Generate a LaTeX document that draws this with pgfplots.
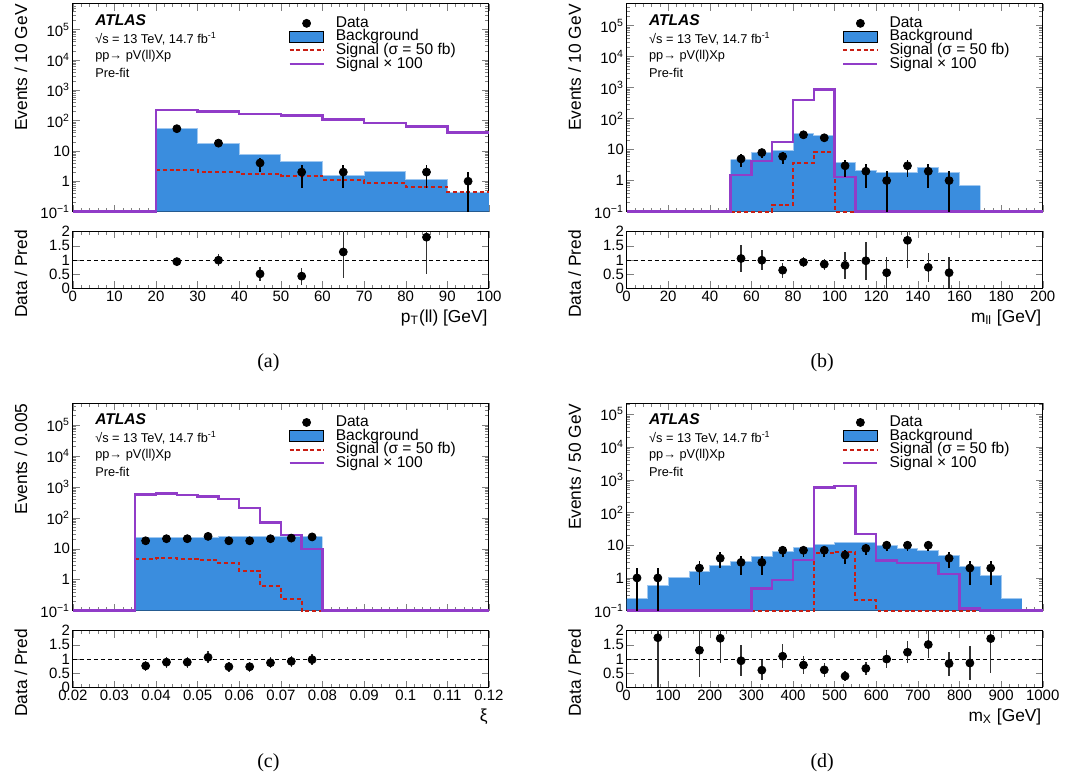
\documentclass[border=0pt]{standalone}
\usepackage{fontspec}
\setmainfont{Liberation Sans}
\newfontfamily\capfont{Liberation Serif}
\usepackage{pgfplots}
\pgfplotsset{compat=1.18}

\definecolor{bgblue}{RGB}{58,141,222}
\definecolor{bgedge}{RGB}{160,200,240}
\definecolor{sigred}{RGB}{200,30,20}
\definecolor{sigpurple}{RGB}{145,60,200}

\newcommand\tickfont{\fontsize{7.5}{9}\selectfont}
\newcommand\labfont{\fontsize{8.7}{10}\selectfont}
\newcommand\legfont{\fontsize{7.8}{9}\selectfont}
\newcommand\infofont{\fontsize{6.4}{7.5}\selectfont}
\newcommand\atlasfont{\fontsize{7.8}{9}\selectfont\bfseries\itshape}

\pgfplotsset{
 every axis/.append style={
  scale only axis, width=208.5pt,
  axis line style={line width=0.5pt},
  major tick length=3.5pt, minor tick length=1.75pt,
  tick align=inside,
  ticklabel style={font=\tickfont},
  yticklabel style={inner xsep=1.2pt},
  xticklabel style={inner ysep=1.2pt},
  legend cell align=left,
  legend style={at={(rel axis cs:0.518,0.959)}, anchor=north west, draw=none, fill=none,
   font=\legfont, inner sep=0pt, outer sep=0pt, row sep=-4.3pt, column sep=3.5pt},
 },
}

\newcommand\atlasblock{%
 \node[anchor=base west, font=\atlasfont, inner sep=0pt] at (rel axis cs:0.053,0.896) {ATLAS};
 \node[anchor=base west, font=\infofont, inner sep=0pt] at (rel axis cs:0.053,0.808) {√s = 13 TeV, 14.7 fb\textsuperscript{-1}};
 \node[anchor=base west, font=\infofont, inner sep=0pt] at (rel axis cs:0.053,0.731) {pp→ pV(ll)Xp};
 \node[anchor=base west, font=\infofont, inner sep=0pt] at (rel axis cs:0.053,0.648) {Pre-fit};
 \addlegendimage{black, mark=*, mark size=2pt, only marks}
 \addlegendentry{Data}
 \addlegendimage{area legend, fill=bgblue, draw=none}
 \addlegendentry{Background}
 \addlegendimage{sigred, line width=1pt, dash pattern=on 2pt off 1.4pt}
 \addlegendentry{Signal (σ = 50 fb)}
 \addlegendimage{sigpurple, line width=1.2pt}
 \addlegendentry{Signal × 100}
}
\newcommand\ylab[1]{\node[rotate=90, anchor=east, font=\labfont, inner sep=0pt] at ([xshift=-26pt]rel axis cs:0,1) {#1};}
\newcommand\rylab{\node[rotate=90, anchor=east, font=\labfont, inner sep=0pt] at ([xshift=-26pt,yshift=1pt]rel axis cs:0,1) {Data / Pred};}
\newcommand\xlab[1]{\node[anchor=base east, font=\labfont, inner sep=0pt] at ([xshift=-0.5pt,yshift=-17pt]rel axis cs:1,0) {#1};}

\begin{document}
\begin{tikzpicture}
\path (0pt,0pt) rectangle (533pt,-391pt);

%================ (a) =================
\begin{axis}[at={(36.5pt,-106pt)}, anchor=south west, height=104pt,
  ymode=log, ymin=0.1, ymax=7e5, log origin y=infty, clip=false,
  ytick={0.1,1,10,100,1000,10000,100000},
  yticklabels={10\textsuperscript{−1},1,10,10\textsuperscript{2},10\textsuperscript{3},10\textsuperscript{4},10\textsuperscript{5}},
  minor ytick={0.2,0.3,0.4,0.5,0.6,0.7,0.8,0.9,2,3,4,5,6,7,8,9,20,30,40,50,60,70,80,90,200,300,400,500,600,700,800,900,2000,3000,4000,5000,6000,7000,8000,9000,20000,30000,40000,50000,60000,70000,80000,90000,200000,300000,400000,500000,600000},
  xmin=0, xmax=100, xtick={0,10,20,30,40,50,60,70,80,90,100}, minor x tick num=4, xticklabels={}]
\addplot[const plot mark left, fill=bgblue, draw=none, forget plot] coordinates {(20,56)(30,17.5)(40,7.6)(50,4.4)(60,1.5)(70,2.14)(80,1.1)(90,0.43)(100,0.43)} \closedcycle;
\addplot[const plot mark left, draw=bgedge, line width=0.5pt, forget plot] coordinates {(20,56)(30,17.5)(40,7.6)(50,4.4)(60,1.5)(70,2.14)(80,1.1)(90,0.43)(100,0.43)};
\addplot[const plot mark left, draw=sigred, line width=1pt, dash pattern=on 2pt off 1.4pt, forget plot] coordinates {(20,2.3)(30,1.98)(40,1.79)(50,1.54)(60,1.13)(70,0.88)(80,0.65)(90,0.43)(100,0.43)};
\addplot[const plot mark left, draw=sigpurple, line width=1.2pt, forget plot] coordinates {(0,0.1)(20,227)(30,200)(40,168)(50,147)(60,109)(70,84)(80,64)(90,41)(100,41)};
\addplot[only marks, mark=*, mark size=2pt, black, forget plot,
   error bars/.cd, y dir=both, y explicit, error mark=none, error bar style={line width=0.9pt, black}] coordinates {
 (25,54) +- (0,7.35)
 (35,18) +- (0,4.24)
 (45,4) +- (0,2)
 (55,2) +- (0,1.41)
 (65,2) +- (0,1.41)
 (85,2) +- (0,1.41)
 (95,1) += (0,1) -= (0,0.9)};
\atlasblock
\ylab{Events / 10 GeV}
\end{axis}
\begin{axis}[at={(36.5pt,-144.5pt)}, anchor=south west, height=28.5pt, ymin=0, ymax=2,
  clip mode=individual,
  ytick={0,0.5,1,1.5,2}, yticklabels={0,0.5,1,1.5,2},
  xmin=0, xmax=100, xtick={0,10,20,30,40,50,60,70,80,90,100}, minor x tick num=4,
  xticklabels={0,10,20,30,40,50,60,70,80,90,100}]
\addplot[black, line width=0.4pt, dash pattern=on 2pt off 1.5pt, forget plot] coordinates {(0,1)(100,1)};
\addplot[only marks, mark=*, mark size=2pt, black, forget plot,
   error bars/.cd, y dir=both, y explicit, error mark=none, error bar style={line width=0.7pt, black!80}] coordinates {
 (25,0.94) +- (0,0.13)
 (35,0.99) +- (0,0.22)
 (45,0.51) +- (0,0.24)
 (55,0.43) +- (0,0.30)
 (65,1.28) +- (0,0.91)
 (85,1.80) +- (0,1.28)};
\rylab
\xlab{p\textsubscript{T}(ll) [GeV]}
\end{axis}

%================ (b) =================
\begin{axis}[at={(314pt,-106pt)}, anchor=south west, height=104pt,
  ymode=log, ymin=0.1, ymax=5e5, log origin y=infty, clip=false,
  ytick={0.1,1,10,100,1000,10000,100000},
  yticklabels={10\textsuperscript{−1},1,10,10\textsuperscript{2},10\textsuperscript{3},10\textsuperscript{4},10\textsuperscript{5}},
  minor ytick={0.2,0.3,0.4,0.5,0.6,0.7,0.8,0.9,2,3,4,5,6,7,8,9,20,30,40,50,60,70,80,90,200,300,400,500,600,700,800,900,2000,3000,4000,5000,6000,7000,8000,9000,20000,30000,40000,50000,60000,70000,80000,90000,200000,300000,400000},
  xmin=0, xmax=200, xtick={0,20,40,60,80,100,120,140,160,180,200}, minor x tick num=4, xticklabels={}]
\addplot[const plot mark left, fill=bgblue, draw=none, forget plot] coordinates {(50,4.76)(60,7.8)(70,9.5)(80,32.8)(90,28.3)(100,3.7)(110,2.1)(120,1.77)(130,1.77)(140,2.7)(150,1.77)(160,0.69)(170,0.69)} \closedcycle;
\addplot[const plot mark left, draw=bgedge, line width=0.5pt, forget plot] coordinates {(50,4.76)(60,7.8)(70,9.5)(80,32.8)(90,28.3)(100,3.7)(110,2.1)(120,1.77)(130,1.77)(140,2.7)(150,1.77)(160,0.69)(170,0.69)};
\addplot[const plot mark left, draw=sigred, line width=1pt, dash pattern=on 2pt off 1.4pt, forget plot] coordinates {(50,0.1)(60,0.1)(70,0.16)(80,3.7)(90,8.2)(100,0.1)(110,0.1)};
\addplot[const plot mark left, draw=sigpurple, line width=1.2pt, forget plot] coordinates {(0,0.1)(50,1.49)(60,4.2)(70,17.3)(80,390)(90,861)(100,1.28)(110,0.1)(200,0.1)};
\addplot[only marks, mark=*, mark size=2pt, black, forget plot,
   error bars/.cd, y dir=both, y explicit, error mark=none, error bar style={line width=0.9pt, black}] coordinates {
 (55,5) +- (0,2.24)
 (65,8) +- (0,2.83)
 (75,6) +- (0,2.45)
 (85,30) +- (0,5.48)
 (95,24) +- (0,4.9)
 (105,3) +- (0,1.73)
 (115,2) +- (0,1.41)
 (125,1) += (0,1) -= (0,0.9)
 (135,3) +- (0,1.73)
 (145,2) +- (0,1.41)
 (155,1) += (0,1) -= (0,0.9)};
\atlasblock
\ylab{Events / 10 GeV}
\end{axis}
\begin{axis}[at={(314pt,-144.5pt)}, anchor=south west, height=28.5pt, ymin=0, ymax=2,
  clip mode=individual,
  ytick={0,0.5,1,1.5,2}, yticklabels={0,0.5,1,1.5,2},
  xmin=0, xmax=200, xtick={0,20,40,60,80,100,120,140,160,180,200}, minor x tick num=4,
  xticklabels={0,20,40,60,80,100,120,140,160,180,200}]
\addplot[black, line width=0.4pt, dash pattern=on 2pt off 1.5pt, forget plot] coordinates {(0,1)(200,1)};
\addplot[only marks, mark=*, mark size=2pt, black, forget plot,
   error bars/.cd, y dir=both, y explicit, error mark=none, error bar style={line width=0.7pt, black!80}] coordinates {
 (55,1.05) +- (0,0.47)
 (65,0.99) +- (0,0.35)
 (75,0.64) +- (0,0.26)
 (85,0.92) +- (0,0.17)
 (95,0.85) +- (0,0.19)
 (105,0.81) +- (0,0.47)
 (115,0.97) +- (0,0.67)
 (125,0.55) +- (0,0.55)
 (135,1.69) +- (0,0.99)
 (145,0.74) +- (0,0.52)
 (155,0.55) +- (0,0.55)};
\rylab
\xlab{m\textsubscript{ll} [GeV]}
\end{axis}

%================ (c) =================
\begin{axis}[at={(36.5pt,-306pt)}, anchor=south west, height=104pt,
  ymode=log, ymin=0.1, ymax=5e5, log origin y=infty, clip=false,
  ytick={0.1,1,10,100,1000,10000,100000},
  yticklabels={10\textsuperscript{−1},1,10,10\textsuperscript{2},10\textsuperscript{3},10\textsuperscript{4},10\textsuperscript{5}},
  minor ytick={0.2,0.3,0.4,0.5,0.6,0.7,0.8,0.9,2,3,4,5,6,7,8,9,20,30,40,50,60,70,80,90,200,300,400,500,600,700,800,900,2000,3000,4000,5000,6000,7000,8000,9000,20000,30000,40000,50000,60000,70000,80000,90000,200000,300000,400000},
  xmin=0.02, xmax=0.12, xtick={0.02,0.03,0.04,0.05,0.06,0.07,0.08,0.09,0.1,0.11,0.12}, minor x tick num=4, xticklabels={}]
\addplot[const plot mark left, fill=bgblue, draw=none, forget plot] coordinates {(0.035,23.7)(0.04,23.6)(0.045,23.6)(0.05,23.6)(0.055,24.7)(0.06,24.7)(0.065,24.1)(0.07,23.9)(0.075,24.5)(0.08,24.5)} \closedcycle;
\addplot[const plot mark left, draw=bgedge, line width=0.5pt, forget plot] coordinates {(0.035,23.7)(0.04,23.6)(0.045,23.6)(0.05,23.6)(0.055,24.7)(0.06,24.7)(0.065,24.1)(0.07,23.9)(0.075,24.5)(0.08,24.5)};
\addplot[const plot mark left, draw=sigred, line width=1pt, dash pattern=on 2pt off 1.4pt, forget plot] coordinates {(0.035,4.76)(0.04,5.1)(0.045,4.76)(0.05,4.3)(0.055,3.45)(0.06,1.86)(0.065,0.63)(0.07,0.244)(0.075,0.1)(0.08,0.1)};
\addplot[const plot mark left, draw=sigpurple, line width=1.2pt, forget plot] coordinates {(0.02,0.1)(0.035,566)(0.04,610)(0.045,538)(0.05,488)(0.055,400)(0.06,205)(0.065,71)(0.07,28.3)(0.075,10)(0.08,0.1)(0.12,0.1)};
\addplot[only marks, mark=*, mark size=2pt, black, forget plot,
   error bars/.cd, y dir=both, y explicit, error mark=none, error bar style={line width=0.9pt, black}] coordinates {
 (0.0375,18) +- (0,4.24)
 (0.0425,21) +- (0,4.58)
 (0.0475,21) +- (0,4.58)
 (0.0525,25) +- (0,5)
 (0.0575,18) +- (0,4.24)
 (0.0625,18) +- (0,4.24)
 (0.0675,21) +- (0,4.58)
 (0.0725,22) +- (0,4.69)
 (0.0775,24) +- (0,4.9)};
\atlasblock
\ylab{Events / 0.005}
\end{axis}
\begin{axis}[at={(36.5pt,-344.5pt)}, anchor=south west, height=28.5pt, ymin=0, ymax=2,
  clip mode=individual,
  ytick={0,0.5,1,1.5,2}, yticklabels={0,0.5,1,1.5,2},
  xmin=0.02, xmax=0.12, xtick={0.02,0.03,0.04,0.05,0.06,0.07,0.08,0.09,0.1,0.11,0.12}, minor x tick num=4,
  xticklabels={0.02,0.03,0.04,0.05,0.06,0.07,0.08,0.09,0.1,0.11,0.12}]
\addplot[black, line width=0.4pt, dash pattern=on 2pt off 1.5pt, forget plot] coordinates {(0.02,1)(0.12,1)};
\addplot[only marks, mark=*, mark size=2pt, black, forget plot,
   error bars/.cd, y dir=both, y explicit, error mark=none, error bar style={line width=0.7pt, black!80}] coordinates {
 (0.0375,0.76) +- (0,0.18)
 (0.0425,0.89) +- (0,0.19)
 (0.0475,0.89) +- (0,0.19)
 (0.0525,1.06) +- (0,0.21)
 (0.0575,0.73) +- (0,0.17)
 (0.0625,0.73) +- (0,0.17)
 (0.0675,0.87) +- (0,0.19)
 (0.0725,0.92) +- (0,0.20)
 (0.0775,0.98) +- (0,0.20)};
\rylab
\xlab{ξ}
\end{axis}

%================ (d) =================
\begin{axis}[at={(314pt,-306pt)}, anchor=south west, height=104pt,
  ymode=log, ymin=0.1, ymax=2.2e5, log origin y=infty, clip=false,
  ytick={0.1,1,10,100,1000,10000,100000},
  yticklabels={10\textsuperscript{−1},1,10,10\textsuperscript{2},10\textsuperscript{3},10\textsuperscript{4},10\textsuperscript{5}},
  minor ytick={0.2,0.3,0.4,0.5,0.6,0.7,0.8,0.9,2,3,4,5,6,7,8,9,20,30,40,50,60,70,80,90,200,300,400,500,600,700,800,900,2000,3000,4000,5000,6000,7000,8000,9000,20000,30000,40000,50000,60000,70000,80000,90000,200000},
  xmin=0, xmax=1000, xtick={0,100,200,300,400,500,600,700,800,900,1000}, minor x tick num=4, xticklabels={}]
\addplot[const plot mark left, fill=bgblue, draw=none, forget plot] coordinates {(0,0.23)(50,0.57)(100,1.04)(150,1.54)(200,2.35)(250,3.2)(300,4.6)(350,6.4)(400,8.75)(450,10.8)(500,12)(550,11.8)(600,10)(650,8)(700,6.7)(750,4.7)(800,2.3)(850,1.2)(900,0.23)(950,0.23)} \closedcycle;
\addplot[const plot mark left, draw=bgedge, line width=0.5pt, forget plot] coordinates {(0,0.23)(50,0.57)(100,1.04)(150,1.54)(200,2.35)(250,3.2)(300,4.6)(350,6.4)(400,8.75)(450,10.8)(500,12)(550,11.8)(600,10)(650,8)(700,6.7)(750,4.7)(800,2.3)(850,1.2)(900,0.23)(950,0.23)};
\addplot[const plot mark left, draw=sigred, line width=1pt, dash pattern=on 2pt off 1.4pt, forget plot] coordinates {(300,0.1)(350,0.1)(400,0.1)(450,5.7)(500,6.4)(550,0.21)(600,0.1)(850,0.1)};
\addplot[const plot mark left, draw=sigpurple, line width=1.2pt, forget plot] coordinates {(0,0.1)(300,0.47)(350,0.88)(400,3.6)(450,584)(500,657)(550,22)(600,3.4)(650,2.9)(700,2.9)(750,1.34)(800,0.115)(850,0.1)(1000,0.1)};
\addplot[only marks, mark=*, mark size=2pt, black, forget plot,
   error bars/.cd, y dir=both, y explicit, error mark=none, error bar style={line width=0.9pt, black}] coordinates {
 (25,1) += (0,1) -= (0,0.9)
 (75,1) += (0,1) -= (0,0.9)
 (175,2) +- (0,1.41)
 (225,4) +- (0,2)
 (275,3) +- (0,1.73)
 (325,3) +- (0,1.73)
 (375,7) +- (0,2.65)
 (425,7) +- (0,2.65)
 (475,7) +- (0,2.65)
 (525,5) +- (0,2.24)
 (575,8) +- (0,2.83)
 (625,10) +- (0,3.16)
 (675,10) +- (0,3.16)
 (725,10) +- (0,3.16)
 (775,4) +- (0,2)
 (825,2) +- (0,1.41)
 (875,2) +- (0,1.41)};
\atlasblock
\ylab{Events / 50 GeV}
\end{axis}
\begin{axis}[at={(314pt,-344.5pt)}, anchor=south west, height=28.5pt, ymin=0, ymax=2,
  clip mode=individual,
  ytick={0,0.5,1,1.5,2}, yticklabels={0,0.5,1,1.5,2},
  xmin=0, xmax=1000, xtick={0,100,200,300,400,500,600,700,800,900,1000}, minor x tick num=4,
  xticklabels={0,100,200,300,400,500,600,700,800,900,1000}]
\addplot[black, line width=0.4pt, dash pattern=on 2pt off 1.5pt, forget plot] coordinates {(0,1)(1000,1)};
\addplot[only marks, mark=*, mark size=2pt, black, forget plot,
   error bars/.cd, y dir=both, y explicit, error mark=none, error bar style={line width=0.7pt, black!80}] coordinates {
 (75,1.75) +- (0,1.75)
 (175,1.31) +- (0,0.93)
 (225,1.73) +- (0,0.88)
 (275,0.94) +- (0,0.54)
 (325,0.61) +- (0,0.35)
 (375,1.10) +- (0,0.42)
 (425,0.79) +- (0,0.30)
 (475,0.62) +- (0,0.24)
 (525,0.40) +- (0,0.18)
 (575,0.67) +- (0,0.24)
 (625,1.00) +- (0,0.32)
 (675,1.24) +- (0,0.39)
 (725,1.51) +- (0,0.48)
 (775,0.84) +- (0,0.42)
 (825,0.86) +- (0,0.61)
 (875,1.72) +- (0,1.22)};
\rylab
\xlab{m\textsubscript{X} [GeV]}
\end{axis}

%================ captions =================
\node[font=\capfont\fontsize{10}{12}\selectfont] at (134.5pt,-181.5pt) {(a)};
\node[font=\capfont\fontsize{10}{12}\selectfont] at (412pt,-181.5pt) {(b)};
\node[font=\capfont\fontsize{10}{12}\selectfont] at (134.5pt,-382pt) {(c)};
\node[font=\capfont\fontsize{10}{12}\selectfont] at (412pt,-382pt) {(d)};
\end{tikzpicture}
\end{document}
